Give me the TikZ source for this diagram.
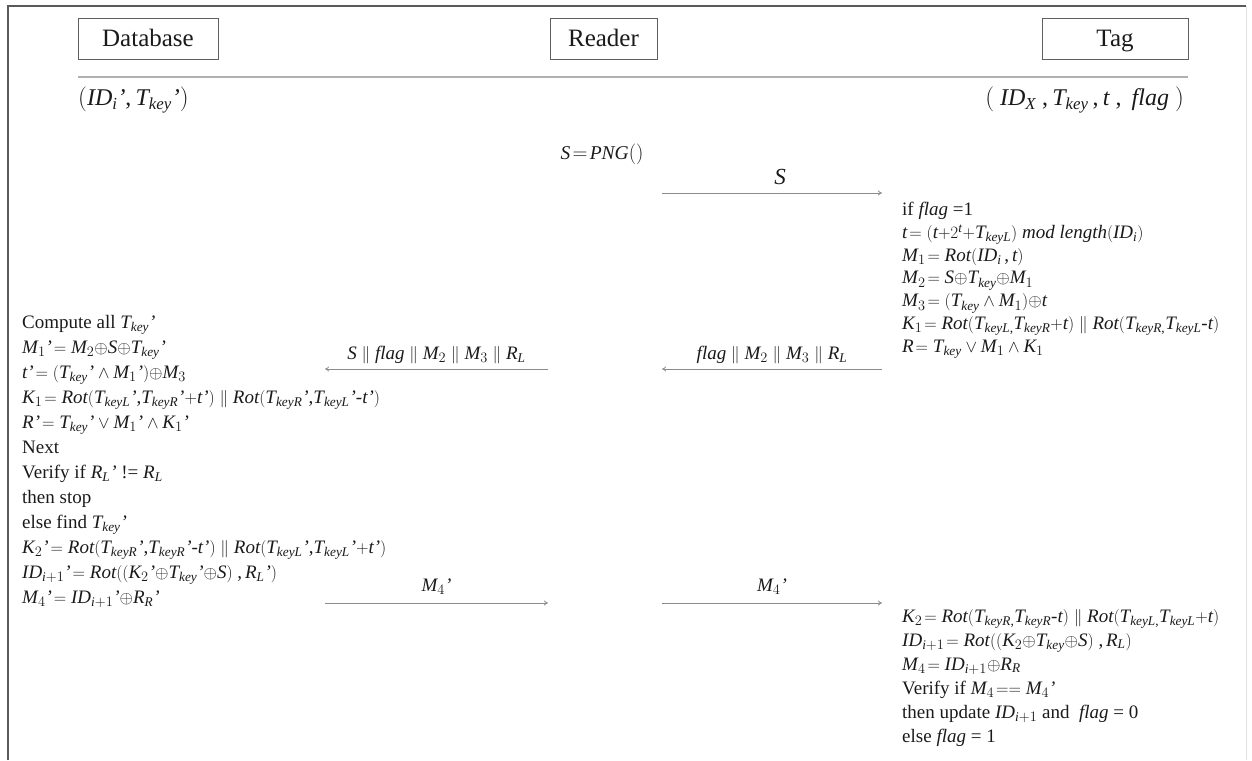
\documentclass[tikz,border=0pt]{standalone}
\usepackage{amsmath}
\usepackage{fontspec}
\setmainfont{Liberation Serif}
\newfontfamily\protomath{Liberation Serif}[NFSSFamily=libsermath]
\DeclareSymbolFont{letters}{TU}{libsermath}{m}{it}
\DeclareSymbolFont{operators}{TU}{libsermath}{m}{n}
\DeclareMathAlphabet{\mathit}{TU}{libsermath}{m}{it}
\DeclareMathSymbol{,}{\mathpunct}{operators}{`,}
\DeclareMathSymbol{.}{\mathord}{operators}{`.}
\usetikzlibrary{arrows.meta}

\definecolor{boxgray}{HTML}{606060}
\definecolor{rulegray}{HTML}{B0B0B0}
\definecolor{arrowgray}{HTML}{8C8C8C}
\definecolor{framegray}{HTML}{5A5A5A}
\definecolor{edgegray}{HTML}{E2E2E2}
\definecolor{ink}{HTML}{1A1A1A}

\newcommand{\pri}{\mbox{\itshape '}}
\newcommand{\hy}{\mbox{-}}
\newcommand{\cat}{\mathrel{\|}}
\newcommand{\flag}{\textit{flag}}
\newcommand{\Rot}{\mathit{Rot}}
\newcommand{\ID}{\mathit{ID}}

\tikzset{
  party/.style={draw=boxgray, line width=0.8pt, inner sep=0pt, minimum height=41pt,
    text height=17pt, text depth=1pt, text=ink, font=\fontsize{25}{28}\selectfont},
  state/.style={inner sep=0pt, text=ink, font=\fontsize{24}{28}\selectfont},
  steps/.style={anchor=north west, inner sep=0pt, align=left, text=ink,
    font=\fontsize{19}{22.8}\selectfont},
  msg/.style={draw=arrowgray, line width=0.8pt, -{To[length=4pt,width=5pt]}},
  msglabel/.style={above=5pt, inner sep=0pt, text=ink, font=\fontsize{19}{23}\selectfont},
}

\begin{document}
\begin{tikzpicture}[x=1pt, y=-1pt]
    \useasboundingbox (0,0) rectangle (1252,760);
    % frame
    \draw[framegray, line width=2pt] (8,760) -- (8,6) -- (1246,6);
    \draw[edgegray, line width=1pt] (1246,6) -- (1246,760);

    % parties
    \node at (148,38.5) (db) [party, minimum width=140pt] {Database};
    \node at (603.5,38.5) (rd) [party, minimum width=107pt] {Reader};
    \node at (1115,38.5) (tg) [party, minimum width=146pt] {Tag};
    \draw[rulegray, line width=1.8pt] (db.west |- 0,77) -- (tg.east |- 0,77);

    \node at (78,100) (dbstate) [state, anchor=west] {$(\ID_i\pri, T_{key}\pri)$};
    \node at (1184,100) (tgstate) [state, anchor=east] {$(\ \ID_X\ , T_{key}\,, t\ ,\ \flag\ )$};
    \node at (602,154) (png) [state, font=\fontsize{19.5}{23}\selectfont] {$S\!=\!\mathit{PNG}()$};

    % tag side, first pass
    \node at (902,202) (tagcalc) [steps] {%
      if \flag{} =1\\
      $t\!= (t{+}2^t{+}T_{keyL})$ \textit{mod length}$(\ID_i)$\\
      $M_1\!= \Rot(\ID_i\,, t)$\\
      $M_2\!= S{\oplus}T_{key}{\oplus}M_1$\\
      $M_3\!= (T_{key}\wedge M_1){\oplus}t$\\
      $K_1\!= \Rot(T_{keyL,}T_{keyR}{+}t) \cat \Rot(T_{keyR,}T_{keyL}\hy t)$\\
      $R\!= T_{key}\vee M_1\wedge K_1$};

    % database side
    \node at (22,315) (dbcalc) [steps, font=\fontsize{19}{25}\selectfont] {%
      Compute all $T_{key}\pri$\\
      $M_1\pri\!= M_2{\oplus}S{\oplus}T_{key}\pri$\\
      $t\pri\!= (T_{key}\pri\wedge M_1\pri){\oplus}M_3$\\
      $K_1\!= \Rot(T_{keyL}\pri{,}T_{keyR}\pri{+}t\pri) \cat \Rot(T_{keyR}\pri{,}T_{keyL}\pri\hy t\pri)$\\
      $R\pri\!= T_{key}\pri\vee M_1\pri\wedge K_1\pri$\\
      Next\\
      Verify if $R_L\pri$ != $R_L$\\
      then stop\\
      else find $T_{key}\pri$\\
      $K_2\pri\!= \Rot(T_{keyR}\pri{,}T_{keyR}\pri\hy t\pri) \cat \Rot(T_{keyL}\pri{,}T_{keyL}\pri{+}t\pri)$\\
      $\ID_{i+1}\pri\!= \Rot((K_2\pri{\oplus}T_{key}\pri{\oplus}S)\ , R_L\pri)$\\
      $M_4\pri\!= \ID_{i+1}\pri{\oplus}R_R\pri$};

    % tag side, verification
    \node at (902,609) (tagcheck) [steps, font=\fontsize{19}{24}\selectfont] {%
      $K_2\!= \Rot(T_{keyR,}T_{keyR}\hy t) \cat \Rot(T_{keyL,}T_{keyL}{+}t)$\\
      $\ID_{i+1}\!= \Rot((K_2{\oplus}T_{key}{\oplus}S)\ , R_L)$\\
      $M_4\!= \ID_{i+1}{\oplus}R_R$\\
      Verify if $M_4\!==M_4\pri$\\
      then update $\ID_{i+1}$ and\ \ \flag{} = 0\\
      else \flag{} = 1};

    % messages
    \coordinate (s1) at (662,193);
    \coordinate (s2) at (882,193);
    \coordinate (f1) at (882,369);
    \coordinate (f2) at (662,369);
    \coordinate (g1) at (548,369);
    \coordinate (g2) at (325,369);
    \coordinate (m1) at (325,603);
    \coordinate (m2) at (548,603);
    \coordinate (m3) at (662,603);
    \coordinate (m4) at (882,603);

    \draw[msg] (s1) -- node[msglabel, above=3pt, xshift=8pt, font=\fontsize{23}{26}\selectfont] {$S$} (s2);
    \draw[msg] (f1) -- node[msglabel] {$\flag \cat M_2 \cat M_3 \cat R_L$} (f2);
    \draw[msg] (g1) -- node[msglabel] {$S \cat \flag \cat M_2 \cat M_3 \cat R_L$} (g2);
    \draw[msg] (m1) -- node[msglabel, above=3pt] {$M_4\pri$} (m2);
    \draw[msg] (m3) -- node[msglabel, above=3pt] {$M_4\pri$} (m4);

\end{tikzpicture}
\end{document}
